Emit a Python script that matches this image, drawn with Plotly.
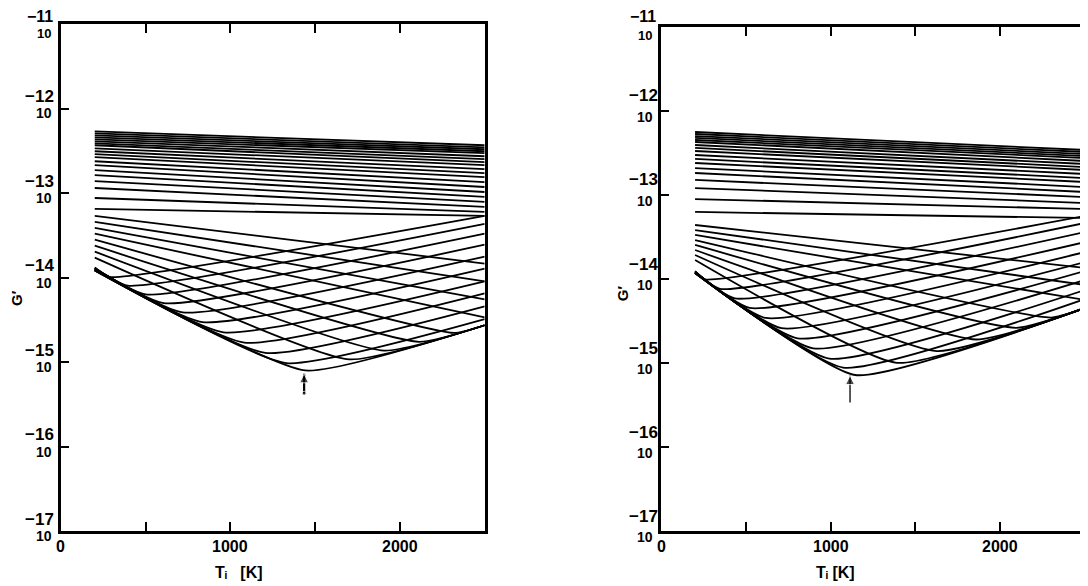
import plotly.graph_objects as go

# ---------------- data (log10 G' values) ----------------
T_START = 200      # K, first temperature of every curve
T_END = 2500       # K, last temperature of every curve

# ===== Left panel =====
# upper family of nearly straight lines: log10 G' at T_START and at T_END
left_top_start = [-12.271, -12.294, -12.318, -12.341, -12.365, -12.388, -12.412,
                  -12.435, -12.471, -12.506, -12.541, -12.576, -12.624, -12.671,
                  -12.729, -12.788, -12.859, -12.941, -13.059, -13.188,
                  -13.271, -13.341, -13.412, -13.482]
left_top_end = [-12.435, -12.459, -12.482, -12.506, -12.529, -12.565, -12.600,
                -12.635, -12.671, -12.718, -12.765, -12.812, -12.871, -12.929,
                -12.988, -13.047, -13.106, -13.165, -13.224, -13.271,
                -13.835, -14.047, -14.259, -14.471]
# curves with a minimum: start value, position and value of the minimum, end value
left_min_start = [-13.882, -13.888, -13.894, -13.894, -13.900, -13.906, -13.906,
                  -13.912, -13.918, -13.918, -13.918,
                  -13.553, -13.624, -13.694, -13.765]
left_min_T = [288, 394, 500, 606, 718, 835, 959, 1082, 1206, 1329, 1441,
              2318, 2112, 1906, 1700]
left_min_val = [-13.993, -14.096, -14.200, -14.304, -14.413, -14.528, -14.649,
                -14.771, -14.892, -15.013, -15.100,
                -14.656, -14.761, -14.865, -14.969]
left_min_end = [-13.271, -13.365, -13.482, -13.612, -13.753, -13.894, -14.047,
                -14.188, -14.341, -14.494, -14.565,
                -14.565, -14.565, -14.565, -14.565]

# ===== Right panel =====
right_top_start = [-12.250, -12.274, -12.298, -12.321, -12.345, -12.369, -12.405,
                   -12.440, -12.476, -12.524, -12.571, -12.619, -12.679, -12.738,
                   -12.821, -12.917, -13.048,
                   -13.202, -13.357, -13.417, -13.476]
right_top_end = [-12.464, -12.488, -12.512, -12.536, -12.560, -12.595, -12.631,
                 -12.667, -12.702, -12.750, -12.798, -12.845, -12.905, -12.964,
                 -13.024, -13.095, -13.167,
                 -13.274, -13.869, -14.071, -14.250]
right_min_start = [-13.905, -13.911, -13.917, -13.917, -13.923, -13.923, -13.929,
                   -13.929, -13.929, -13.929, -13.929,
                   -13.774, -13.714, -13.655, -13.595, -13.536]
right_min_T = [258, 346, 434, 522, 616, 710, 804, 897, 991, 1073, 1144,
               1390, 1625, 1859, 2094, 2299]
right_min_val = [-14.004, -14.118, -14.231, -14.344, -14.464, -14.585, -14.706,
                 -14.826, -14.948, -15.054, -15.143,
                 -14.998, -14.858, -14.720, -14.581, -14.460]
right_min_end = [-13.250, -13.333, -13.440, -13.560, -13.679, -13.798, -13.905,
                 -14.012, -14.131, -14.238, -14.345,
                 -14.345, -14.345, -14.345, -14.345, -14.345]

x_tick_vals = [500, 1000, 1500, 2000]
x_label_vals = [0, 1000, 2000]
y_decades = [-11, -12, -13, -14, -15, -16, -17]
# arrows marking the overall minimum: T, head and tail (log10 G')
arrow_left = (1435, -15.14, -15.37)
arrow_right = (1114, -15.15, -15.47)

# ---------------- figure ----------------
OFF = 8                     # page body margin of the html page
W, H = 1088 - OFF, 586 - OFF
fig = go.Figure()
LINE = dict(color="black", width=1.8)


def add_family(top_s, top_e, low_s, low_T, low_m, low_e, xa, ya):
    for s, e in zip(top_s, top_e):
        fig.add_trace(go.Scatter(x=[T_START, T_END], y=[s, e], mode="lines",
                                 line=LINE, xaxis=xa, yaxis=ya,
                                 showlegend=False, hoverinfo="skip"))
    for s, t, m, e in zip(low_s, low_T, low_m, low_e):
        fig.add_trace(go.Scatter(x=[T_START, t, T_END], y=[s, m, e], mode="lines",
                                 line=dict(color="black", width=1.8,
                                           shape="spline", smoothing=0.45),
                                 xaxis=xa, yaxis=ya,
                                 showlegend=False, hoverinfo="skip"))


add_family(left_top_start, left_top_end, left_min_start, left_min_T,
           left_min_val, left_min_end, "x", "y")
add_family(right_top_start, right_top_end, right_min_start, right_min_T,
           right_min_val, right_min_end, "x2", "y2")

# arrows
for (t, head, tail), xa, ya, w, tail_marker in ((arrow_left, "x", "y", 2.2, 4),
                                                (arrow_right, "x2", "y2", 1.3, 0)):
    fig.add_trace(go.Scatter(x=[t, t], y=[tail, head], mode="lines",
                             line=dict(color="black", width=w), xaxis=xa, yaxis=ya,
                             showlegend=False, hoverinfo="skip"))
    fig.add_trace(go.Scatter(x=[t, t], y=[head, tail], mode="markers",
                             marker=dict(symbol=["arrow-up", "circle"],
                                         size=[9, tail_marker], color="black"),
                             xaxis=xa, yaxis=ya, showlegend=False, hoverinfo="skip"))

# panel geometry (page pixels)
L_X0, L_X1 = 61, 486
R_X0 = 663
Y_BOT = 531
L_YTOP, R_YTOP = 24, 27


def px(x):
    return (x - OFF) / W


def py(y):
    return 1 - (y - OFF) / H


xcommon = dict(range=[0, 2500], showgrid=False, zeroline=False, showline=True,
               linecolor="black", linewidth=2.5, mirror="ticks", ticks="inside",
               ticklen=9, tickwidth=2, tickcolor="black", tickvals=x_tick_vals,
               showticklabels=False)
ycommon = dict(range=[-17, -11], showgrid=False, zeroline=False, showline=True,
               linecolor="black", linewidth=2.5, mirror=True, ticks="inside",
               ticklen=8, tickwidth=2, tickcolor="black",
               tickvals=[-12, -13, -14, -15, -16], showticklabels=False)

fig.update_layout(
    width=W, height=H,
    margin=dict(l=0, r=0, t=0, b=0),
    paper_bgcolor="white", plot_bgcolor="white",
    xaxis=dict(domain=[px(L_X0), px(L_X1)], anchor="y", **xcommon),
    yaxis=dict(domain=[py(Y_BOT), py(L_YTOP)], anchor="x", **ycommon),
    xaxis2=dict(domain=[px(R_X0), 1.0], anchor="y2", **xcommon),
    yaxis2=dict(domain=[py(Y_BOT), py(R_YTOP)], anchor="x2", **ycommon),
    showlegend=False,
)

FONT = "Liberation Sans, Arial, sans-serif"
ann = []
# y tick labels: exponent above "10"
for yref, xe, xt, up, dn, top_up, top_dn in (("y", 40, 44, 12, -5, 7, -10),
                                             ("y2", 645, 647, 15, -6, 10, -9)):
    for d in y_decades:
        top = d == -11
        ann.append(dict(xref="paper", yref=yref, x=px(xe), y=d,
                        yshift=top_up if top else up,
                        text="<b>\u2212%d</b>" % abs(d), showarrow=False,
                        font=dict(family=FONT, size=16 if top else 17, color="black"),
                        xanchor="center", yanchor="middle"))
        ann.append(dict(xref="paper", yref=yref, x=px(xt), y=d,
                        yshift=top_dn if top else dn,
                        text="<b>10</b>", showarrow=False,
                        font=dict(family=FONT, size=13 if top else 14, color="black"),
                        xanchor="center", yanchor="middle"))
# x tick labels
for xref in ("x", "x2"):
    for v in x_label_vals:
        ann.append(dict(xref=xref, yref="paper", x=v, y=py(546),
                        text="<b>%d</b>" % v, showarrow=False,
                        font=dict(family=FONT, size=16, color="black"),
                        xanchor="center", yanchor="middle"))
# axis titles
ann.append(dict(xref="paper", yref="paper", x=px(240), y=py(572),
                text="<b>T\u1d62   [K]</b>", showarrow=False,
                font=dict(family=FONT, size=16, color="black"),
                xanchor="center", yanchor="middle"))
ann.append(dict(xref="paper", yref="paper", x=px(838), y=py(572),
                text="<b>T\u1d62 [K]</b>", showarrow=False,
                font=dict(family=FONT, size=16, color="black"),
                xanchor="center", yanchor="middle"))
for xg, yg in ((16, 298), (624, 293)):
    ann.append(dict(xref="paper", yref="paper", x=px(xg), y=py(yg),
                    text="<b>G\u2032</b>", showarrow=False, textangle=-90,
                    font=dict(family=FONT, size=15, color="black"),
                    xanchor="center", yanchor="middle"))
fig.update_layout(annotations=ann)

fig.write_html("out.html")
